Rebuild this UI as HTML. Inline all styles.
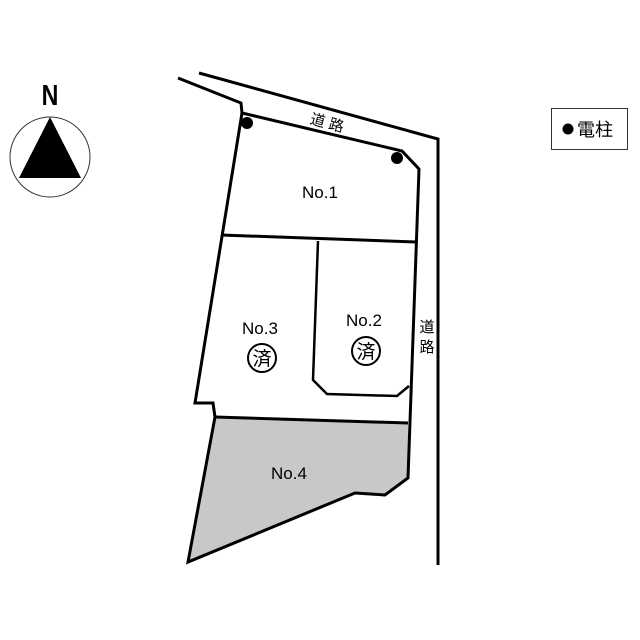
<!DOCTYPE html>
<html><head><meta charset="utf-8"><style>
html,body{margin:0;padding:0;background:#fff;}
svg{display:block;}
text{font-family:"Liberation Sans","Noto Sans CJK JP",sans-serif;fill:#000;}
</style></head><body>
<svg width="640" height="640" viewBox="0 0 640 640" xmlns="http://www.w3.org/2000/svg">
<rect width="640" height="640" fill="#fff"/>
<text x="50" y="105" font-size="29" font-weight="bold" text-anchor="middle" transform="translate(50 0) scale(0.8 1) translate(-50 0)">N</text>
<circle cx="50" cy="157" r="40" fill="none" stroke="#333" stroke-width="1"/>
<polygon points="50,117 19,178 81,178" fill="#000"/>
<rect x="551.5" y="108.5" width="76" height="41" fill="none" stroke="#333" stroke-width="1"/>
<circle cx="568" cy="129" r="5.5" fill="#000"/>
<text x="595" y="136" font-size="18" text-anchor="middle">電柱</text>
<polygon points="215,417 408,423 408,478 385,495 355,493 188,562" fill="#c8c8c8"/>
<g fill="none" stroke="#000" stroke-width="3" stroke-linejoin="miter">
<polyline points="178,78 241,103 242,113"/>
<polyline points="199,73 438,139 438,565"/>
<polyline points="242,113 402,151 419,169 408,478 385,495 355,493 188,562 215,417 213,403 195,403 242,113"/>
<line x1="221" y1="235" x2="416" y2="242"/>
<line x1="215" y1="417" x2="408" y2="423"/>
<polyline points="318,241 313,380 327,394 397,396 409,386" stroke-width="2.5"/>
</g>
<circle cx="247" cy="123" r="6" fill="#000"/>
<circle cx="397" cy="158" r="6" fill="#000"/>
<text x="320" y="198" font-size="17" text-anchor="middle">No.1</text>
<text x="260" y="334" font-size="17" text-anchor="middle">No.3</text>
<text x="364" y="326" font-size="17" text-anchor="middle">No.2</text>
<text x="289" y="479" font-size="17" text-anchor="middle">No.4</text>
<circle cx="262" cy="358" r="14" fill="none" stroke="#000" stroke-width="2"/>
<text x="262" y="365" font-size="19" text-anchor="middle">済</text>
<circle cx="366" cy="351" r="14" fill="none" stroke="#000" stroke-width="2"/>
<text x="366" y="358" font-size="19" text-anchor="middle">済</text>
<text x="327" y="128" font-size="15" text-anchor="middle" transform="rotate(15 327 123)">道 路</text>
<text x="427" y="332" font-size="15" text-anchor="middle">道</text>
<text x="427" y="352" font-size="15" text-anchor="middle">路</text>
</svg>
</body></html>
